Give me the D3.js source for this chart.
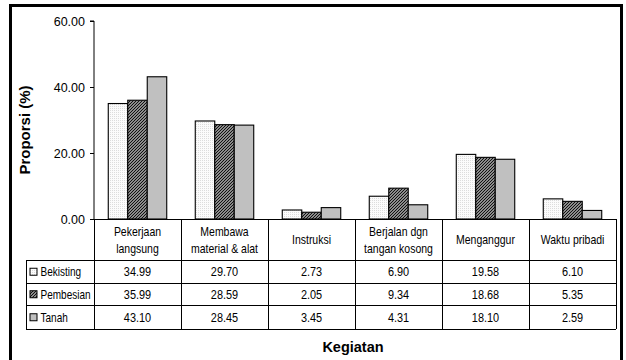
<!DOCTYPE html>
<html>
<head>
<meta charset="utf-8">
<script src="https://cdn.jsdelivr.net/npm/d3@7"></script>
<style>
  html, body { margin: 0; padding: 0; background: #fff; }
  svg { display: block; }
  text { font-family: "Liberation Sans", Arial, sans-serif; }
</style>
</head>
<body>
<svg id="chart" width="626" height="360"></svg>
<script>
// Activity categories (header labels split into lines)
const categories = [
  ["Pekerjaan", "langsung"],
  ["Membawa", "material & alat"],
  ["Instruksi"],
  ["Berjalan dgn", "tangan kosong"],
  ["Menganggur"],
  ["Waktu pribadi"]
];
const seriesNames = ["Bekisting", "Pembesian", "Tanah"];
const bekisting = [34.99, 29.70, 2.73, 6.90, 19.58, 6.10];
const pembesian = [35.99, 28.59, 2.05, 9.34, 18.68, 5.35];
const tanah = [43.10, 28.45, 3.45, 4.31, 18.10, 2.59];
const seriesValues = [bekisting, pembesian, tanah];
const yTicks = [0, 20, 40, 60];

const svg = d3.select("#chart");
const defs = svg.append("defs");

// Fill patterns: fine dots, dense diagonal hatch, solid grey
const dots = defs.append("pattern").attr("id", "pDots")
  .attr("patternUnits", "userSpaceOnUse").attr("width", 2).attr("height", 2);
dots.append("rect").attr("width", 2).attr("height", 2).attr("fill", "#fbfbfb");
dots.append("rect").attr("width", 1).attr("height", 1).attr("fill", "#dcdcdc");

const hatch = defs.append("pattern").attr("id", "pHatch")
  .attr("patternUnits", "userSpaceOnUse").attr("width", 3).attr("height", 3);
hatch.append("rect").attr("width", 3).attr("height", 3).attr("fill", "#ffffff");
hatch.append("path").attr("d", "M-1,1 L1,-1 M0,3 L3,0 M2,4 L4,2")
  .attr("stroke", "#111").attr("stroke-width", 1.4);

const fills = ["url(#pDots)", "url(#pHatch)", "#c0c0c0"];

// Outer frame
svg.append("rect").attr("x", 10.5).attr("y", 5.5).attr("width", 611).attr("height", 370)
  .attr("fill", "none").attr("stroke", "#000").attr("stroke-width", 3);

const plotLeft = 94, plotRight = 616, plotTop = 21, plotBottom = 219;

const x = d3.scaleBand().domain(d3.range(categories.length))
  .range([plotLeft, plotRight]).padding(0);
const bw = x.bandwidth();
const xs = d3.scaleBand().domain(d3.range(seriesNames.length))
  .range([bw * 0.164, bw * 0.836]).padding(0);
const y = d3.scaleLinear().domain([0, 60]).range([plotBottom, plotTop]);

// Bars
seriesValues.forEach((vals, si) => {
  svg.append("g").selectAll("rect").data(vals).join("rect")
    .attr("x", (d, i) => x(i) + xs(si))
    .attr("y", d => y(d))
    .attr("width", xs.bandwidth())
    .attr("height", d => y(0) - y(d))
    .attr("fill", fills[si])
    .attr("stroke", "#000").attr("stroke-width", 1.1);
});

// Y axis
const yAxis = svg.append("g").attr("transform", `translate(${plotLeft},0)`)
  .call(d3.axisLeft(y).tickValues(yTicks).tickFormat(d3.format(".2f")).tickSize(4).tickPadding(5));
yAxis.select(".domain").attr("stroke", "#000").attr("d", `M-4,${plotTop}H0V${plotBottom}`);
yAxis.selectAll("line").attr("stroke", "#000");
yAxis.selectAll("text").attr("font-family", "Liberation Sans, Arial, sans-serif")
  .attr("font-size", 12.5).attr("fill", "#000");

// Data table under the axis
const rowLines = [plotBottom, 260.5, 283, 305.5, 329];
const tbl = svg.append("g").attr("stroke", "#000").attr("stroke-width", 1).attr("fill", "none")
  .attr("shape-rendering", "crispEdges");
tbl.append("line").attr("x1", plotLeft).attr("x2", plotRight).attr("y1", plotBottom).attr("y2", plotBottom);
rowLines.slice(1).forEach(yy => {
  tbl.append("line").attr("x1", 26).attr("x2", plotRight).attr("y1", yy).attr("y2", yy);
});
d3.range(categories.length + 1).forEach(i => {
  const xx = i < categories.length ? x(i) : plotRight;
  tbl.append("line").attr("x1", xx).attr("x2", xx).attr("y1", plotBottom).attr("y2", 329);
});
tbl.append("line").attr("x1", 26).attr("x2", 26).attr("y1", rowLines[1]).attr("y2", 329);

// Condensed text helper: horizontally squeezed label anchored at (tx, ty)
function narrowText(g, tx, ty, str, anchor, size, sx = 0.84) {
  g.append("g").attr("transform", `translate(${tx},${ty}) scale(${sx},1)`)
    .append("text").attr("text-anchor", anchor).attr("font-size", size)
    .attr("fill", "#000").text(str);
}

// Category header text
const hdr = svg.append("g");
categories.forEach((lines, i) => {
  const cx = x(i) + bw / 2;
  const mid = (plotBottom + rowLines[1]) / 2;
  lines.forEach((ln, k) => {
    const yy = mid + (k - (lines.length - 1) / 2) * 17 + 4.5;
    narrowText(hdr, cx, yy, ln, "middle", 12.5);
  });
});

// Value rows with legend keys
const vals = svg.append("g");
seriesValues.forEach((arr, si) => {
  const mid = (rowLines[si + 1] + rowLines[si + 2]) / 2;
  vals.append("rect").attr("x", 30).attr("y", mid - 3.5).attr("width", 7).attr("height", 7)
    .attr("fill", fills[si]).attr("stroke", "#000").attr("stroke-width", 1);
  narrowText(vals, 40.5, mid + 4.5, seriesNames[si], "start", 13, 0.77);
  arr.forEach((v, i) => {
    narrowText(vals, x(i) + bw / 2, mid + 4.5, d3.format(".2f")(v), "middle", 13);
  });
});

// Axis titles
svg.append("text").attr("x", 353).attr("y", 352).attr("text-anchor", "middle")
  .attr("font-weight", "bold").attr("font-size", 14.5).text("Kegiatan");
svg.append("text").attr("transform", "translate(30,130) rotate(-90)").attr("text-anchor", "middle")
  .attr("font-weight", "bold").attr("font-size", 15).text("Proporsi (%)");
</script>
</body>
</html>
